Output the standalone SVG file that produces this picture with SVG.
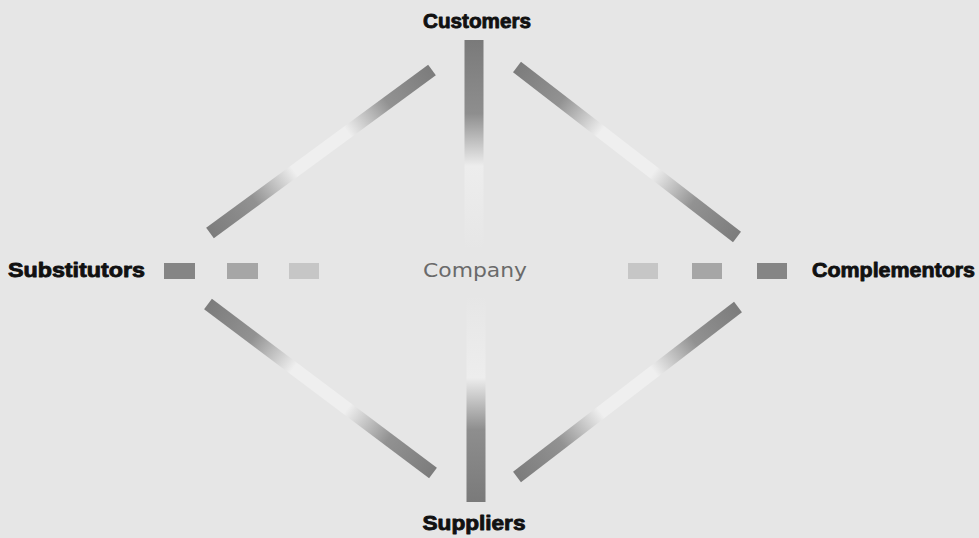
<svg xmlns="http://www.w3.org/2000/svg" width="979" height="538" viewBox="0 0 979 538">
  <defs>
    <style>
      .label { font-family: "Liberation Sans", Arial, sans-serif; font-weight: bold; font-size: 21px; fill: #111; stroke: #111; stroke-width: 0.9; stroke-linejoin: round; }
      .center { font-family: "DejaVu Sans", "Liberation Sans", sans-serif; font-size: 20px; fill: #6a6a6a; }
      .diag { fill: none; stroke-width: 13; stroke-linecap: butt; }
      .vert { fill: none; stroke-width: 19; stroke-linecap: butt; }
    </style>
    <linearGradient id="gDiag" gradientUnits="objectBoundingBox">
      <stop offset="0" stop-color="#7c7c7c"/>
    </linearGradient>
    <linearGradient id="gUL" gradientUnits="userSpaceOnUse" x1="210" y1="233" x2="432" y2="70">
      <stop offset="0" stop-color="#7c7c7c"/><stop offset="0.2" stop-color="#929292"/><stop offset="0.38" stop-color="#efefef"/>
      <stop offset="0.62" stop-color="#efefef"/><stop offset="0.8" stop-color="#929292"/><stop offset="1" stop-color="#7c7c7c"/>
    </linearGradient>
    <linearGradient id="gUR" gradientUnits="userSpaceOnUse" x1="517" y1="67" x2="737" y2="237">
      <stop offset="0" stop-color="#7c7c7c"/><stop offset="0.2" stop-color="#929292"/><stop offset="0.38" stop-color="#efefef"/>
      <stop offset="0.62" stop-color="#efefef"/><stop offset="0.8" stop-color="#929292"/><stop offset="1" stop-color="#7c7c7c"/>
    </linearGradient>
    <linearGradient id="gLL" gradientUnits="userSpaceOnUse" x1="208" y1="304" x2="433" y2="473">
      <stop offset="0" stop-color="#7c7c7c"/><stop offset="0.2" stop-color="#929292"/><stop offset="0.38" stop-color="#efefef"/>
      <stop offset="0.62" stop-color="#efefef"/><stop offset="0.8" stop-color="#929292"/><stop offset="1" stop-color="#7c7c7c"/>
    </linearGradient>
    <linearGradient id="gLR" gradientUnits="userSpaceOnUse" x1="738" y1="307" x2="517" y2="477">
      <stop offset="0" stop-color="#7c7c7c"/><stop offset="0.2" stop-color="#929292"/><stop offset="0.38" stop-color="#efefef"/>
      <stop offset="0.62" stop-color="#efefef"/><stop offset="0.8" stop-color="#929292"/><stop offset="1" stop-color="#7c7c7c"/>
    </linearGradient>
    <linearGradient id="gVT" gradientUnits="userSpaceOnUse" x1="474" y1="40" x2="474" y2="250">
      <stop offset="0" stop-color="#7a7a7a"/><stop offset="0.35" stop-color="#8e8e8e"/><stop offset="0.6" stop-color="#ededed"/>
      <stop offset="1" stop-color="#ededed" stop-opacity="0"/>
    </linearGradient>
    <linearGradient id="gVB" gradientUnits="userSpaceOnUse" x1="476" y1="502" x2="476" y2="295">
      <stop offset="0" stop-color="#7a7a7a"/><stop offset="0.35" stop-color="#8e8e8e"/><stop offset="0.6" stop-color="#ededed"/>
      <stop offset="1" stop-color="#ededed" stop-opacity="0"/>
    </linearGradient>
  </defs>

  <rect x="0" y="0" width="979" height="538" fill="#e6e6e6"/>

  <g id="connectors">
    <line class="diag" x1="210" y1="233" x2="432" y2="70" stroke="url(#gUL)"/>
    <line class="diag" x1="517" y1="67" x2="737" y2="237" stroke="url(#gUR)"/>
    <line class="diag" x1="208" y1="304" x2="433" y2="473" stroke="url(#gLL)"/>
    <line class="diag" x1="738" y1="307" x2="517" y2="477" stroke="url(#gLR)"/>
    <line class="vert" x1="474" y1="40" x2="474" y2="250" stroke="url(#gVT)"/>
    <line class="vert" x1="476" y1="502" x2="476" y2="295" stroke="url(#gVB)" stroke-width="20"/>
    <rect x="164" y="263" width="31" height="16" fill="#858585"/>
    <rect x="227" y="263" width="31" height="16" fill="#a6a6a6"/>
    <rect x="289" y="263" width="30" height="16" fill="#c6c6c6"/>
    <rect x="628" y="263" width="30" height="16" fill="#c6c6c6"/>
    <rect x="692" y="263" width="30" height="16" fill="#a6a6a6"/>
    <rect x="757" y="263" width="30" height="16" fill="#858585"/>
  </g>

  <g id="customers">
    <text class="label" x="477" y="28" text-anchor="middle" textLength="108" lengthAdjust="spacingAndGlyphs">Customers</text>
  </g>
  <g id="suppliers">
    <text class="label" x="474" y="530" text-anchor="middle" textLength="103" lengthAdjust="spacingAndGlyphs">Suppliers</text>
  </g>
  <g id="substitutors">
    <text class="label" x="8" y="277" textLength="137" lengthAdjust="spacingAndGlyphs">Substitutors</text>
  </g>
  <g id="complementors">
    <text class="label" x="812" y="277" textLength="163" lengthAdjust="spacingAndGlyphs">Complementors</text>
  </g>
  <g id="company">
    <text class="center" x="423" y="277" textLength="104" lengthAdjust="spacingAndGlyphs">Company</text>
  </g>
</svg>
